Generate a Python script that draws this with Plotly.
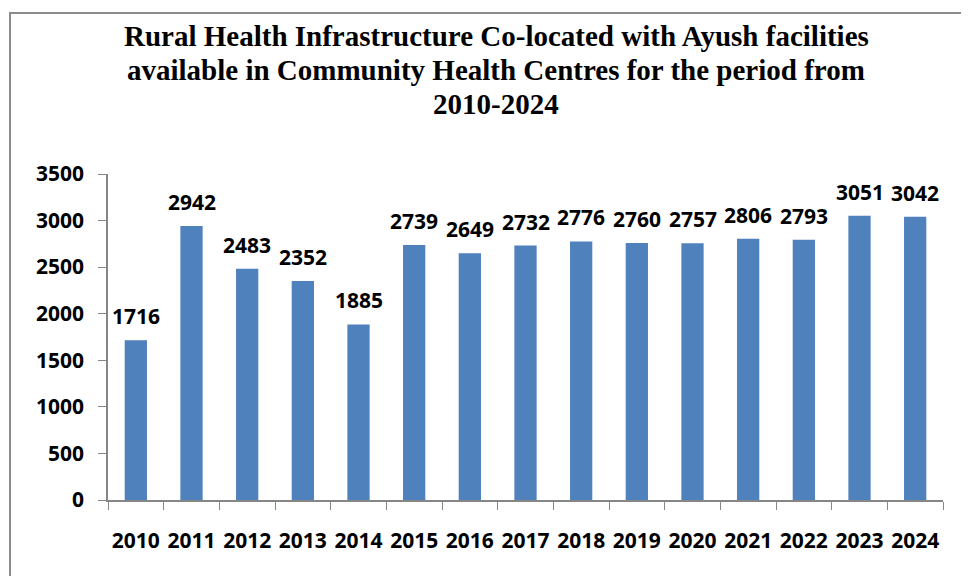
import plotly.graph_objects as go

years = ["2010", "2011", "2012", "2013", "2014", "2015", "2016", "2017",
         "2018", "2019", "2020", "2021", "2022", "2023", "2024"]
chc_ayush = [1716, 2942, 2483, 2352, 1885, 2739, 2649, 2732,
             2776, 2760, 2757, 2806, 2793, 3051, 3042]
y_ticks = [0, 500, 1000, 1500, 2000, 2500, 3000, 3500]

title_lines = [
    "Rural Health Infrastructure Co-located with Ayush facilities",
    "available in Community Health Centres for the period from",
    "2010-2024",
]

# the page body adds an 8px margin, so work in screen pixels and shift
OFF = 8
W, H = 969 - OFF, 576 - OFF
# plot area in screen pixels
L, R, T, B = 108, 943, 174, 500

def px_x(p):
    return (p - L) / (R - L)

def px_y(p):
    return (B - p) / (B - T)

lab_font = dict(family="Open Sans, Liberation Sans, sans-serif", size=21,
                color="black", weight="bold")

fig = go.Figure(
    go.Bar(
        x=years,
        y=chc_ayush,
        marker=dict(color="#4F81BD", line=dict(width=0)),
        showlegend=False,
    )
)

# value labels above bars (category axis -> use the category index)
for i, v in enumerate(chc_ayush):
    fig.add_annotation(x=i, y=v, text=str(v), showarrow=False,
                       yanchor="bottom", yshift=8, font=lab_font)

# title, one annotation per line
for line, yc in zip(title_lines, [36, 70, 104]):
    fig.add_annotation(
        xref="paper", yref="paper", x=px_x(496), y=px_y(yc),
        xanchor="center", yanchor="middle", showarrow=False,
        text="<b>" + line + "</b>",
        font=dict(family="Liberation Serif, Times New Roman, serif", size=29, color="black"),
    )

# chart border
fig.add_shape(type="rect", xref="paper", yref="paper",
              x0=px_x(10), x1=px_x(963), y0=px_y(600), y1=px_y(13),
              line=dict(color="#8c8c8c", width=2), layer="below")

fig.update_layout(
    width=W, height=H,
    margin=dict(l=L - OFF, r=W + OFF - R, t=T - OFF, b=H + OFF - B, autoexpand=False),
    paper_bgcolor="white", plot_bgcolor="white",
    bargap=0.6,
    showlegend=False,
)
fig.update_xaxes(
    type="category", tickson="boundaries", ticks="outside", ticklen=8,
    tickcolor="#868686", showline=True, linecolor="#868686", linewidth=1.5,
    tickfont=lab_font, ticklabelstandoff=21, showgrid=False, tickangle=0,
    range=[-0.5, len(years) - 0.5],
)
fig.update_yaxes(
    range=[0, 3500], tickvals=y_ticks, ticks="outside", ticklen=8,
    tickcolor="#868686", showline=True, linecolor="#868686", linewidth=1.5,
    tickfont=lab_font, ticklabelstandoff=10, showgrid=False, zeroline=False,
)

fig.write_html("out.html")
